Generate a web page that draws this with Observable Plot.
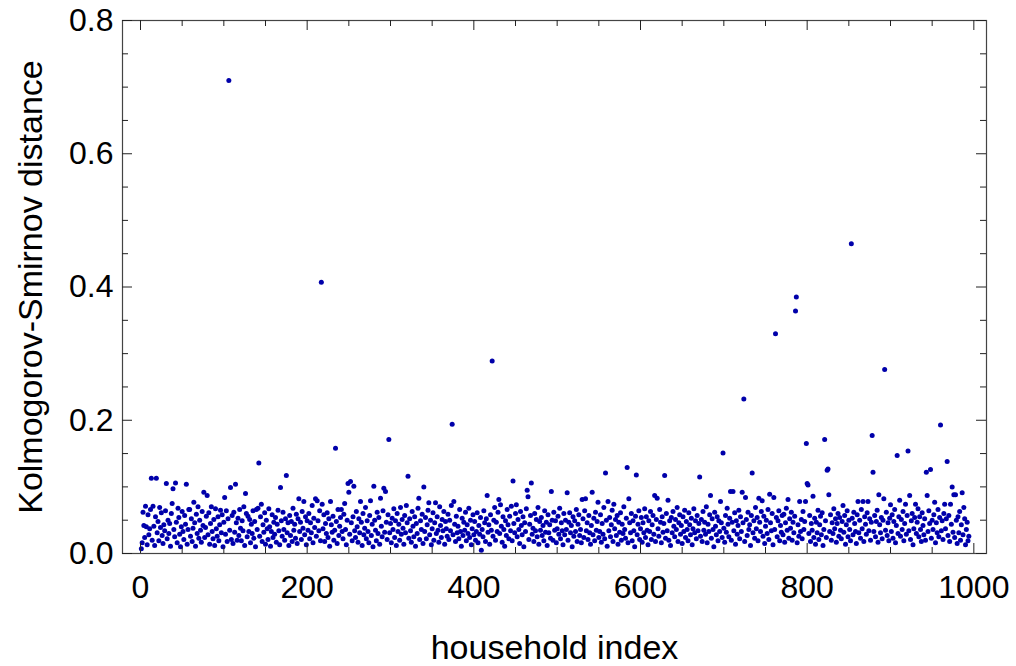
<!DOCTYPE html>
<html>
<head>
<meta charset="utf-8">
<script src="https://cdn.jsdelivr.net/npm/d3@7"></script>
<script src="https://cdn.jsdelivr.net/npm/@observablehq/plot@0.6"></script>
<style>
  html, body { margin: 0; padding: 0; background: #fff; }
</style>
</head>
<body>
<div id="chart"></div>
<script>
// Kolmogorov-Smirnov distance per household, household index = position + 1
const ksDistance = [
  .007,.016,.062,.042,.024,.071,.040,.013,.058,.028,
  .037,.066,.113,.020,.071,.041,.012,.055,.113,.031,
  .048,.019,.069,.039,.061,.027,.015,.043,.034,.064,
  .105,.022,.050,.030,.045,.011,.060,.075,.097,.036,
  .025,.106,.047,.016,.068,.054,.029,.010,.040,.063,
  .033,.021,.057,.044,.104,.014,.036,.066,.066,.026,
  .052,.018,.038,.077,.046,.011,.059,.030,.070,.023,
  .050,.035,.017,.063,.042,.092,.024,.039,.056,.087,
  .028,.061,.014,.045,.070,.033,.022,.051,.012,.067,
  .037,.026,.055,.019,.043,.065,.031,.058,.010,.047,
  // 101-200
  .084,.029,.064,.018,.052,.710,.035,.099,.021,.057,
  .015,.062,.032,.104,.046,.020,.053,.027,.066,.038,
  .019,.049,.034,.070,.012,.090,.060,.025,.056,.033,
  .051,.016,.044,.030,.064,.023,.048,.010,.066,.036,
  .068,.136,.026,.055,.074,.018,.043,.032,.061,.014,
  .050,.037,.021,.067,.040,.011,.033,.058,.024,.047,
  .029,.054,.017,.044,.065,.034,.013,.099,.049,.026,
  .062,.036,.020,.052,.117,.031,.046,.012,.057,.027,
  .048,.018,.068,.035,.044,.023,.059,.015,.052,.082,
  .033,.047,.021,.063,.038,.078,.028,.055,.013,.049,
  // 201-300
  .035,.060,.022,.046,.031,.072,.016,.053,.039,.082,
  .026,.079,.049,.034,.064,.019,.407,.074,.037,.058,
  .018,.045,.030,.061,.024,.052,.011,.078,.043,.032,
  .056,.020,.035,.158,.048,.015,.066,.027,.041,.054,
  .066,.033,.022,.059,.075,.036,.013,.050,.105,.092,
  .029,.108,.046,.019,.055,.101,.034,.024,.063,.040,
  .017,.052,.031,.078,.047,.012,.060,.028,.038,.069,
  .022,.049,.033,.016,.057,.079,.027,.044,.010,.101,
  .050,.035,.019,.062,.030,.054,.014,.083,.041,.025,
  .064,.098,.032,.093,.047,.021,.058,.171,.031,.045,
  // 301-400
  .016,.053,.036,.067,.024,.049,.012,.060,.033,.044,
  .020,.069,.029,.051,.038,.014,.057,.031,.072,.046,
  .116,.023,.052,.034,.017,.063,.041,.025,.055,.011,
  .045,.030,.068,.083,.021,.049,.036,.059,.015,.100,
  .033,.054,.022,.043,.065,.076,.028,.050,.013,.037,
  .061,.020,.046,.076,.030,.055,.035,.017,.070,.042,
  .024,.051,.034,.063,.014,.048,.037,.026,.059,.021,
  .050,.034,.072,.194,.028,.078,.044,.018,.056,.031,
  .041,.022,.066,.033,.011,.053,.027,.047,.035,.062,
  .019,.043,.030,.068,.024,.050,.013,.037,.058,.028,
  // 401-500
  .048,.020,.033,.061,.016,.042,.029,.054,.005,.036,
  .025,.064,.046,.018,.052,.087,.032,.043,.014,.058,
  .035,.289,.026,.050,.069,.020,.047,.033,.062,.081,
  .030,.073,.041,.017,.055,.036,.011,.049,.027,.066,
  .043,.022,.056,.034,.071,.019,.109,.045,.031,.060,
  .073,.025,.051,.036,.015,.063,.042,.028,.055,.010,
  .046,.033,.067,.095,.085,.021,.044,.057,.106,.029,
  .038,.018,.060,.034,.051,.025,.069,.014,.048,.035,
  .054,.027,.042,.019,.064,.032,.047,.012,.058,.031,
  .043,.023,.093,.050,.020,.062,.035,.049,.016,.037,
  // 501-600
  .056,.029,.068,.022,.046,.034,.013,.060,.028,.050,
  .036,.091,.020,.047,.061,.031,.042,.010,.055,.026,
  .049,.033,.066,.018,.044,.058,.027,.036,.016,.081,
  .052,.024,.064,.082,.034,.046,.021,.057,.031,.014,
  .042,.092,.028,.053,.019,.062,.035,.048,.077,.024,
  .033,.058,.017,.045,.029,.069,.022,.121,.050,.011,
  .078,.034,.054,.025,.043,.065,.018,.074,.037,.051,
  .027,.057,.014,.047,.032,.061,.020,.044,.030,.070,
  .036,.023,.053,.129,.016,.082,.046,.031,.060,.019,
  .049,.034,.010,.056,.118,.028,.044,.064,.021,.037,
  // 601-700
  .054,.017,.046,.031,.067,.024,.055,.035,.013,.049,
  .033,.063,.021,.043,.057,.029,.087,.018,.051,.083,
  .037,.026,.066,.047,.016,.055,.032,.045,.117,.023,
  .060,.034,.080,.020,.049,.012,.054,.031,.063,.041,
  .025,.051,.036,.069,.018,.046,.058,.029,.042,.015,
  .055,.033,.065,.024,.048,.036,.019,.061,.043,.028,
  .053,.013,.037,.067,.031,.049,.022,.057,.034,.045,
  .115,.026,.051,.018,.063,.035,.047,.029,.070,.016,
  .044,.033,.058,.087,.023,.052,.036,.010,.062,.041,
  .028,.055,.019,.049,.033,.078,.046,.024,.151,.038,
  // 701-800
  .017,.057,.032,.068,.044,.025,.053,.093,.020,.047,
  .093,.034,.061,.014,.049,.029,.042,.065,.022,.055,
  .033,.092,.046,.232,.018,.084,.051,.027,.062,.036,
  .043,.012,.057,.121,.031,.049,.023,.069,.037,.054,
  .019,.083,.047,.033,.063,.079,.026,.056,.015,.041,
  .050,.030,.066,.021,.089,.046,.034,.060,.013,.084,
  .036,.330,.054,.025,.049,.064,.019,.042,.032,.057,
  .028,.059,.017,.046,.068,.035,.081,.023,.052,.038,
  .062,.020,.047,.031,.056,.364,.385,.016,.043,.026,
  .078,.033,.051,.022,.063,.036,.048,.078,.165,.105,
  // 801-900
  .103,.030,.057,.018,.045,.035,.086,.024,.053,.014,
  .047,.031,.065,.021,.043,.056,.028,.061,.012,.036,
  .171,.049,.024,.125,.127,.088,.033,.058,.020,.046,
  .030,.067,.037,.052,.017,.045,.060,.026,.054,.035,
  .022,.048,.072,.032,.057,.014,.043,.064,.025,.050,
  .036,.019,.465,.053,.028,.062,.045,.033,.015,.058,
  .078,.031,.050,.023,.066,.037,.078,.018,.055,.044,
  .029,.061,.078,.034,.052,.020,.047,.177,.122,.033,
  .057,.025,.048,.065,.017,.088,.043,.031,.054,.022,
  .050,.082,.276,.035,.062,.027,.046,.019,.053,.073,
  // 901-994
  .033,.058,.023,.048,.066,.016,.042,.147,.030,.055,
  .080,.026,.051,.036,.063,.019,.045,.074,.029,.057,
  .154,.034,.087,.021,.049,.060,.013,.037,.054,.074,
  .030,.047,.067,.025,.055,.036,.018,.061,.042,.028,
  .052,.020,.122,.087,.033,.064,.045,.126,.023,.050,
  .036,.058,.077,.016,.046,.031,.066,.025,.054,.193,
  .034,.049,.021,.060,.074,.037,.052,.138,.027,.057,
  .018,.074,.044,.100,.032,.088,.024,.088,.050,.015,
  .055,.031,.063,.020,.043,.091,.028,.069,.052,.013,
  .036,.047,.019,.026
];

const xMajorTicks = [0, 200, 400, 600, 800, 1000];
const xMinorTicks = [50, 100, 150, 250, 300, 350, 450, 500, 550, 650, 700, 750, 850, 900, 950];
const yMajorTicks = [0, 0.2, 0.4, 0.6, 0.8];
const yMinorTicks = [0.05, 0.1, 0.15, 0.25, 0.3, 0.35, 0.45, 0.5, 0.55, 0.65, 0.7, 0.75];
const xLabel = "household index";
const yLabel = "Kolmogorov-Smirnov distance";

const points = ksDistance.map((v, i) => ({household: i + 1, ks: v}));

const W = 1016, H = 666;
const mL = 122, mR = 30, mT = 20, mB = 113;
const fw = W - mL - mR, fh = H - mT - mB;
const majorLen = 10, minorLen = 6;
const tickColor = "#222";
const font = "'Liberation Sans', Arial, Helvetica, sans-serif";

const chart = Plot.plot({
  width: W,
  height: H,
  marginLeft: mL,
  marginRight: mR,
  marginTop: mT,
  marginBottom: mB,
  style: {fontFamily: font, background: "#fff", overflow: "visible"},
  x: {domain: [-21.6, 1015.2], axis: null},
  y: {domain: [0, 0.8], axis: null},
  marks: [
    Plot.dot(points, {x: "household", y: "ks", r: 2.5, fill: "#0000aa", stroke: "none"}),
    Plot.frame({stroke: "#444", strokeWidth: 1.2}),
    // bottom ticks
    Plot.tickX(xMajorTicks, {x: d => d, insetTop: fh - majorLen, stroke: tickColor}),
    Plot.tickX(xMinorTicks, {x: d => d, insetTop: fh - minorLen, stroke: tickColor}),
    // top ticks
    Plot.tickX(xMajorTicks, {x: d => d, insetBottom: fh - majorLen, stroke: tickColor}),
    Plot.tickX(xMinorTicks, {x: d => d, insetBottom: fh - minorLen, stroke: tickColor}),
    // left ticks
    Plot.tickY(yMajorTicks, {y: d => d, insetRight: fw - majorLen, stroke: tickColor}),
    Plot.tickY(yMinorTicks, {y: d => d, insetRight: fw - minorLen, stroke: tickColor}),
    // right ticks
    Plot.tickY(yMajorTicks, {y: d => d, insetLeft: fw - majorLen, stroke: tickColor}),
    Plot.tickY(yMinorTicks, {y: d => d, insetLeft: fw - minorLen, stroke: tickColor}),
    // tick labels
    Plot.text(xMajorTicks, {x: d => d, frameAnchor: "bottom", dy: 44, lineAnchor: "bottom",
      text: d => String(d), fontSize: 32, fill: "#000"}),
    Plot.text(yMajorTicks, {y: d => d, frameAnchor: "left", dx: -9, textAnchor: "end", lineAnchor: "middle",
      text: d => d.toFixed(1), fontSize: 32, fill: "#000"}),
    // axis labels
    Plot.text([xLabel], {frameAnchor: "bottom", dy: 105, lineAnchor: "bottom", text: d => d,
      fontSize: 34, fill: "#000"}),
    Plot.text([yLabel], {frameAnchor: "left", dx: -81, rotate: -90, textAnchor: "middle",
      lineAnchor: "bottom", text: d => d, fontSize: 34, fill: "#000"})
  ]
});

document.getElementById("chart").appendChild(chart);
</script>
</body>
</html>
